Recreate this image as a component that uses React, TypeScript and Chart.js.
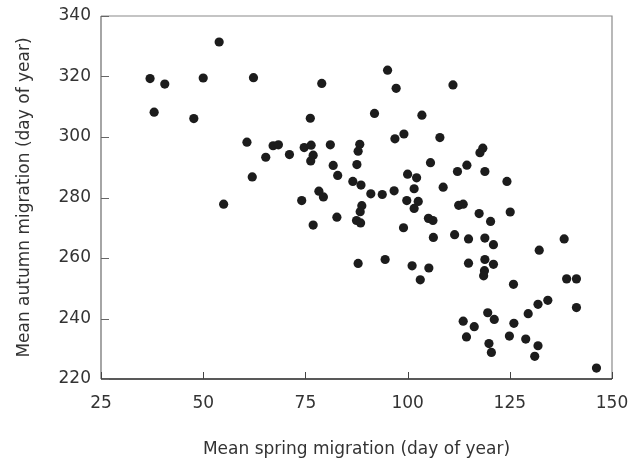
import React, { useEffect, useRef } from "react";
import { Chart, registerables } from "chart.js";

Chart.register(...registerables);

const springDays: number[] = [
  53.9, 37.0, 40.6, 50.0, 62.3, 38.0, 47.7, 60.7, 67.1, 68.4,
  65.3, 62.0, 55.0, 95.1, 79.0, 97.2, 111.1, 91.9, 103.5, 76.2,
  107.9, 99.1, 96.9, 71.1, 74.7, 76.4, 76.9, 76.3, 81.1, 81.8,
  82.9, 88.3, 87.9, 87.6, 86.6, 88.6, 78.3, 79.4, 74.1, 91.0,
  93.8, 96.7, 100.0, 102.2, 101.6, 105.6, 108.7, 99.8, 102.6, 101.6,
  88.8, 88.4, 82.7, 87.5, 88.5, 76.9, 99.0, 105.1, 106.2, 106.3,
  118.4, 117.7, 112.2, 114.5, 118.9, 124.3, 112.5, 113.6, 117.5, 120.3,
  125.1, 111.5, 114.9, 118.9, 121.0, 138.3, 132.2, 87.9, 94.5, 101.1,
  105.2, 103.1, 114.9, 118.9, 121.0, 118.8, 118.6, 125.9, 138.9, 141.3,
  134.3, 131.9, 129.5, 141.3, 119.6, 121.2, 126.0, 113.6, 116.3, 114.4,
  124.9, 128.9, 119.9, 131.9, 120.5, 131.1, 146.2,
];

const autumnDays: number[] = [
  331.4, 319.3, 317.5, 319.5, 319.6, 308.2, 306.1, 298.3, 297.1, 297.4,
  293.3, 286.8, 277.8, 322.1, 317.7, 316.1, 317.2, 307.8, 307.2, 306.2,
  299.8, 301.0, 299.4, 294.2, 296.5, 297.3, 294.0, 292.1, 297.4, 290.6,
  287.3, 297.6, 295.3, 290.9, 285.3, 284.1, 282.1, 280.2, 279.0, 281.2,
  281.0, 282.2, 287.7, 286.5, 282.9, 291.5, 283.4, 279.0, 278.7, 276.4,
  277.3, 275.3, 273.5, 272.4, 271.6, 270.9, 270.0, 273.1, 272.4, 266.8,
  296.3, 294.8, 288.6, 290.7, 288.6, 285.3, 277.4, 277.8, 274.7, 272.1,
  275.2, 267.7, 266.3, 266.6, 264.4, 266.3, 262.6, 258.2, 259.5, 257.4,
  256.7, 252.8, 258.3, 259.5, 257.9, 255.8, 254.1, 251.3, 253.1, 253.1,
  246.0, 244.7, 241.6, 243.6, 241.9, 239.7, 238.4, 239.1, 237.3, 233.9,
  234.2, 233.2, 231.7, 231.0, 228.8, 227.5, 223.6,
];

const xTickValues: number[] = [25, 50, 75, 100, 125, 150];
const yTickValues: number[] = [220, 240, 260, 280, 300, 320, 340];

const xTitle = "Mean spring migration (day of year)";
const yTitle = "Mean autumn migration (day of year)";

const FONT = "'DejaVu Sans', sans-serif";
const TEXT_COLOR = "#333";

const framePlugin = {
  id: "frameAndTicks",
  afterDatasetsDraw(chart: any) {
    const { ctx, chartArea, scales } = chart;
    const { left, right, top, bottom } = chartArea;
    ctx.save();
    ctx.lineWidth = 1.2;
    ctx.strokeStyle = "#8a8a8a";
    ctx.beginPath();
    ctx.moveTo(left, top);
    ctx.lineTo(right, top);
    ctx.lineTo(right, bottom);
    ctx.stroke();
    ctx.strokeStyle = "#6a6a6a";
    ctx.beginPath();
    ctx.moveTo(left, top);
    ctx.lineTo(left, bottom);
    ctx.stroke();
    ctx.strokeStyle = "#222";
    ctx.lineWidth = 1.4;
    ctx.beginPath();
    ctx.moveTo(left, bottom);
    ctx.lineTo(right, bottom);
    ctx.stroke();
    ctx.lineWidth = 1;
    ctx.strokeStyle = "#444";
    xTickValues.forEach((v) => {
      const px = Math.round(scales.x.getPixelForValue(v)) + 0.5;
      ctx.beginPath();
      ctx.moveTo(px, bottom);
      ctx.lineTo(px, bottom - 7);
      ctx.stroke();
    });
    ctx.strokeStyle = "#666";
    yTickValues.forEach((v) => {
      const py = Math.round(scales.y.getPixelForValue(v)) + 0.5;
      ctx.beginPath();
      ctx.moveTo(left, py);
      ctx.lineTo(left + 8, py);
      ctx.stroke();
    });
    ctx.restore();
  },
};

export default function App() {
  const canvasRef = useRef<HTMLCanvasElement | null>(null);

  useEffect(() => {
    document.body.style.margin = "0";
    const canvas = canvasRef.current;
    if (!canvas) return;
    const points = springDays.map((x, i) => ({ x, y: autumnDays[i] }));
    const chart = new Chart(canvas, {
      type: "scatter",
      data: {
        datasets: [
          {
            data: points,
            backgroundColor: "#1c1c1c",
            borderColor: "#1c1c1c",
            borderWidth: 0,
            pointRadius: 4.6,
          },
        ],
      },
      options: {
        animation: false,
        responsive: false,
        maintainAspectRatio: false,
        layout: { padding: { top: 16, right: 28, left: 0, bottom: 0 } },
        plugins: {
          legend: { display: false },
          tooltip: { enabled: false },
        },
        scales: {
          x: {
            type: "linear",
            min: 25,
            max: 150,
            afterBuildTicks: (s: any) => {
              s.ticks = xTickValues.map((v) => ({ value: v }));
            },
            afterFit: (s: any) => {
              s.height = 82;
            },
            grid: { display: false },
            border: { display: false },
            ticks: {
              color: TEXT_COLOR,
              padding: 6,
              font: { family: FONT, size: 17 },
              maxRotation: 0,
            },
            title: {
              display: true,
              text: xTitle,
              color: TEXT_COLOR,
              font: { family: FONT, size: 17 },
              padding: { top: 0, bottom: 1 },
            },
          },
          y: {
            type: "linear",
            min: 220,
            max: 340,
            afterBuildTicks: (s: any) => {
              s.ticks = yTickValues.map((v) => ({ value: v }));
            },
            afterFit: (s: any) => {
              s.width = 101;
            },
            grid: { display: false },
            border: { display: false },
            ticks: {
              color: TEXT_COLOR,
              padding: 2,
              font: { family: FONT, size: 17 },
            },
            title: {
              display: true,
              text: yTitle,
              color: TEXT_COLOR,
              font: { family: FONT, size: 17 },
              padding: { top: 14, bottom: 0 },
            },
          },
        },
      },
      plugins: [framePlugin],
    });
    return () => chart.destroy();
  }, []);

  return (
    <div style={{ width: 640, height: 461 }}>
      <canvas ref={canvasRef} width={640} height={461} style={{ display: "block" }} />
    </div>
  );
}
